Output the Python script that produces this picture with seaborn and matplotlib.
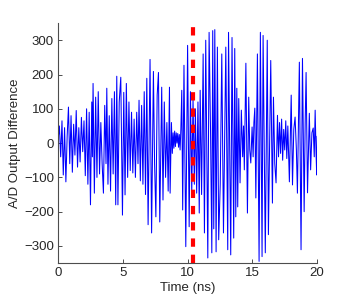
import matplotlib
matplotlib.use("Agg")
import matplotlib.pyplot as plt
import seaborn as sns
import pandas as pd

# peaks / troughs of the A/D output difference
time_ns = [
    0.00, 0.10, 0.20, 0.30, 0.40, 0.50, 0.60, 0.70, 0.80, 0.90,
    1.00, 1.10, 1.20, 1.30, 1.40, 1.50, 1.60, 1.70, 1.80, 1.90,
    2.00, 2.10, 2.20, 2.30, 2.40, 2.50, 2.60, 2.65, 2.70, 2.80,
    2.90, 3.00, 3.10, 3.20, 3.30, 3.40, 3.50, 3.60, 3.70, 3.76,
    3.85, 3.95, 4.05, 4.15, 4.25, 4.35, 4.45, 4.53, 4.62, 4.72,
    4.84, 4.97, 5.07, 5.17, 5.27, 5.37, 5.47, 5.57, 5.67, 5.77,
    5.87, 5.97, 6.07, 6.17, 6.25, 6.35, 6.45, 6.55, 6.65, 6.75,
    6.85, 6.95, 7.10, 7.22, 7.36, 7.45, 7.55, 7.65, 7.75, 7.85,
    8.00, 8.10, 8.20, 8.30, 8.40, 8.50, 8.60, 8.65, 8.75, 8.82,
    8.88, 8.94, 9.00, 9.06, 9.12, 9.18, 9.24, 9.30, 9.36, 9.42,
    9.48, 9.55, 9.62, 9.72, 9.86, 10.00, 10.12, 10.22, 10.32, 10.42,
    10.52, 10.60, 10.70, 10.80, 10.90, 10.97, 11.08, 11.20, 11.30, 11.40,
    11.56, 11.66, 11.77, 11.87, 11.94, 12.02, 12.10, 12.20, 12.30, 12.40,
    12.52, 12.64, 12.77, 12.86, 12.95, 13.10, 13.16, 13.33, 13.43, 13.56,
    13.64, 13.72, 13.80, 13.87, 13.95, 14.05, 14.15, 14.25, 14.32, 14.38,
    14.50, 14.62, 14.72, 14.80, 14.88, 14.98, 15.06, 15.12, 15.19, 15.27,
    15.39, 15.52, 15.62, 15.75, 15.83, 16.00, 16.15, 16.24, 16.42, 16.55,
    16.63, 16.73, 16.83, 16.94, 17.02, 17.10, 17.18, 17.26, 17.34, 17.42,
    17.50, 17.58, 17.66, 17.74, 17.86, 18.00, 18.10, 18.20, 18.30, 18.40,
    18.48, 18.63, 18.76, 18.87, 19.00, 19.08, 19.15, 19.26, 19.40, 19.50,
    19.60, 19.70, 19.78, 19.85, 19.92, 19.97, 20.00,
]
ad_diff = [
    10, 50, -40, 65, -93, 45, -113, 20, 105, -60,
    80, -85, 55, -35, 95, -70, 45, -55, 75, -25,
    65, -95, 100, -120, 90, -180, 120, -40, 174, -146,
    134, -100, 150, -90, 60, -60, -146, 110, -60, 160,
    -120, 80, -140, 130, -90, 150, -180, 195, -180, 120,
    192, -210, 148, -151, 174, -100, 120, -80, 90, -87,
    70, -100, 90, -60, 125, -110, 110, -120, 150, -150,
    189, -238, 244, -262, 209, -60, -215, 140, 206, -230,
    163, -166, 120, -100, 60, -140, 163, -146, 60, -30,
    30, -15, 35, -10, 30, 0, 28, -12, 25, -20,
    40, 154, -195, 227, -302, 285, -244, 150, -146, 130,
    -120, 100, -146, 120, -204, 154, -150, 260, -262, 300,
    -335, 323, 40, -320, 328, -250, 331, -317, 280, -282,
    -120, 260, -262, 20, 280, -311, 323, -326, 308, -277,
    276, -215, 160, -186, 130, -116, 96, -40, 50, -78,
    233, -204, 134, -20, -58, 47, -40, 60, 102, -160,
    260, -345, 323, -331, 314, -320, 300, -267, 241, -175,
    134, -60, -116, 81, -40, 60, -30, 70, -50, 40,
    -20, 65, -45, 50, -113, 140, -122, 40, 76, -20,
    -146, 236, -311, 247, -200, 60, 206, -145, 87, -78,
    30, 44, -40, 96, -30, -93, 20,
]
marker_time = 10.4
x_ticks = [0, 5, 10, 15, 20]
y_ticks = [-300, -200, -100, 0, 100, 200, 300]

sns.set_style("ticks")
plt.rcParams["font.family"] = ["Liberation Sans", "DejaVu Sans"]
plt.rcParams["font.size"] = 9.5

df = pd.DataFrame({"t": time_ns, "d": ad_diff})

fig = plt.figure(figsize=(3.5, 3.0), dpi=100)
ax = fig.add_axes([0.166, 0.123, 0.74, 0.80])

sns.lineplot(data=df, x="t", y="d", ax=ax, color="blue", linewidth=0.75,
             estimator=None, sort=False)
ax.axvline(marker_time, color="red", linewidth=3, dashes=(2.0, 1.9))

ax.set_xlim(0, 20)
ax.set_ylim(-350, 350)
ax.set_xticks(x_ticks)
ax.set_yticks(y_ticks)
ax.set_yticklabels([str(v).replace("-", "\u2212") for v in y_ticks])
ax.set_xlabel("Time (ns)", labelpad=2)
ax.set_ylabel("A/D Output Difference", labelpad=2)

for side in ["top", "right"]:
    ax.spines[side].set_visible(False)
for side in ["left", "bottom"]:
    ax.spines[side].set_color("0.3")
    ax.spines[side].set_linewidth(0.8)
ax.tick_params(direction="in", length=3, width=0.7, color="0.3",
               labelsize=9.5, pad=3)

plt.savefig("out.png", dpi=100)
plt.close()
